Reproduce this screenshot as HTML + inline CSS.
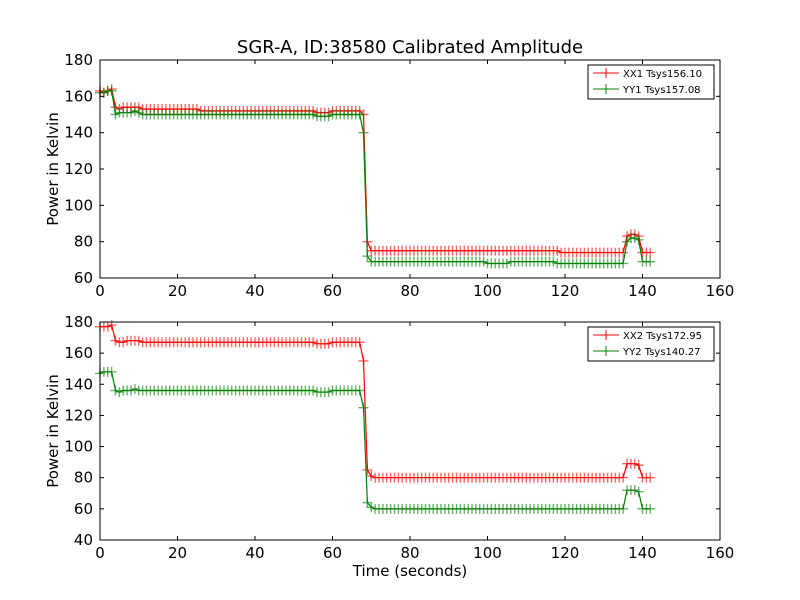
<!DOCTYPE html>
<html><head><meta charset="utf-8"><style>
body{margin:0;background:#fff;}
svg{display:block;font-family:"DejaVu Sans","Liberation Sans",sans-serif;}
</style></head><body>
<svg id="fig" width="800" height="600" viewBox="0 0 800 600">
<rect width="800" height="600" fill="#fff"/>
<text x="410" y="53" text-anchor="middle" font-size="18">SGR-A, ID:38580 Calibrated Amplitude</text>
</svg>
<script>
const times = [];
for (let t = 0; t <= 142; t++) times.push(t);
const xx1 = [163,162,163,164,154,153,154,154,154,154,154,
153,153,153,153,153,153,153,153,153,153,153,153,153,153,153,152,152,152,152,152,
152,152,152,152,152,152,152,152,152,152,152,152,152,152,152,152,152,152,152,152,
152,152,152,152,152,151,151,151,151,152,152,152,152,152,152,152,152,
150,80,75,
75,75,75,75,75,75,75,75,75,75,75,75,75,75,75,75,75,75,75,75,75,75,75,75,75,75,75,75,75,75,
75,75,75,75,75,75,75,75,75,75,75,75,75,75,75,75,75,75,74,74,74,74,74,74,74,74,74,74,74,74,
74,74,74,74,74,
83,84,84,83,74,74,74];
const yy1 = [162,162,163,163,150,151,151,151,151,152,151,
150,150,150,150,150,150,150,150,150,150,150,150,150,150,150,150,150,150,150,150,
150,150,150,150,150,150,150,150,150,150,150,150,150,150,150,150,150,150,150,150,
150,150,150,150,150,149,149,149,149,150,150,150,150,150,150,150,150,
140,72,69,
69,69,69,69,69,69,69,69,69,69,69,69,69,69,69,69,69,69,69,69,69,69,69,69,69,69,69,69,69,68,
68,68,68,68,68,69,69,69,69,69,69,69,69,69,69,69,69,68,68,68,68,68,68,68,68,68,68,68,68,68,
68,68,68,68,68,
80,82,82,81,69,69,69];
const xx2 = [177,177,177,178,168,167,167,168,168,168,168,
167,167,167,167,167,167,167,167,167,167,167,167,167,167,167,167,167,167,167,167,
167,167,167,167,167,167,167,167,167,167,167,167,167,167,167,167,167,167,167,167,
167,167,167,167,167,166,166,166,166,167,167,167,167,167,167,167,167,
155,85,81,
80,80,80,80,80,80,80,80,80,80,80,80,80,80,80,80,80,80,80,80,80,80,80,80,80,80,80,80,80,80,
80,80,80,80,80,80,80,80,80,80,80,80,80,80,80,80,80,80,80,80,80,80,80,80,80,80,80,80,80,80,
80,80,80,80,80,
89,89,89,88,80,80,80];
const yy2 = [147,148,148,148,136,135,136,136,136,137,136,
136,136,136,136,136,136,136,136,136,136,136,136,136,136,136,136,136,136,136,136,
136,136,136,136,136,136,136,136,136,136,136,136,136,136,136,136,136,136,136,136,
136,136,136,136,136,135,135,135,135,136,136,136,136,136,136,136,136,
125,64,61,
60,60,60,60,60,60,60,60,60,60,60,60,60,60,60,60,60,60,60,60,60,60,60,60,60,60,60,60,60,60,
60,60,60,60,60,60,60,60,60,60,60,60,60,60,60,60,60,60,60,60,60,60,60,60,60,60,60,60,60,60,
60,60,60,60,60,
72,72,72,71,60,60,60];
const xTicks = [0,20,40,60,80,100,120,140,160];
const yTicksTop = [60,80,100,120,140,160,180];
const yTicksBot = [40,60,80,100,120,140,160,180];
const legendTop = ["XX1 Tsys156.10","YY1 Tsys157.08"];
const legendBot = ["XX2 Tsys172.95","YY2 Tsys140.27"];

const NS = "http://www.w3.org/2000/svg";
const svg = document.getElementById("fig");
function mk(tag, attrs, parent){const e=document.createElementNS(NS,tag);for(const k in attrs)e.setAttribute(k,attrs[k]);(parent||svg).appendChild(e);return e;}

function panel(top, bottom, ymin, ymax, yTicks, s1, s2, labels, nm, xlabel){
  const L=100,R=720;
  const g=mk("g",{});
  
  
  const xs=v=>L+(v-0)/(160-0)*(R-L);
  const ys=v=>bottom-(v-ymin)/(ymax-ymin)*(bottom-top);
  [[s1,"#ff0000","xx"],[s2,"#008000","yy"]].forEach(([s,c,n])=>{
    const sg=mk("g",{},g);
    
    
    let d="";
    s.forEach((v,i)=>{d+=(i?"L":"M")+xs(times[i]).toFixed(2)+","+ys(v).toFixed(2);});
    const p=mk("path",{d:d,fill:"none",stroke:c,"stroke-width":1.2},sg);
    
    
    let md="";
    s.forEach((v,i)=>{const x=xs(times[i]),y=ys(v);md+=`M${(x-5).toFixed(2)},${y.toFixed(2)}h10M${x.toFixed(2)},${(y-5).toFixed(2)}v10`;});
    const m=mk("path",{d:md,fill:"none",stroke:c,"stroke-width":1.4,"stroke-opacity":0.6},sg);
    
    
  });
  const fr=mk("rect",{x:L,y:top,width:R-L,height:bottom-top,fill:"none",stroke:"#000","stroke-width":1},g);
  
  
  xTicks.forEach(v=>{
    const x=xs(v);
    mk("line",{x1:x,x2:x,y1:bottom,y2:bottom-4,stroke:"#000"},g);
    mk("line",{x1:x,x2:x,y1:top,y2:top+4,stroke:"#000"},g);
    const t=mk("text",{x:x,y:bottom+18,"text-anchor":"middle","font-size":15},g);
    t.textContent=v;
    
    
  });
  yTicks.forEach(v=>{
    const y=ys(v);
    mk("line",{x1:L,x2:L+4,y1:y,y2:y,stroke:"#000"},g);
    mk("line",{x1:R,x2:R-4,y1:y,y2:y,stroke:"#000"},g);
    const t=mk("text",{x:L-7,y:y+5,"text-anchor":"end","font-size":15},g);
    t.textContent=v;
    
    
  });
  const yl=mk("text",{x:0,y:0,"text-anchor":"middle","font-size":15,transform:`translate(58,${(top+bottom)/2}) rotate(-90)`},g);
  yl.textContent="Power in Kelvin";
  
  
  if(xlabel){
    const xl=mk("text",{x:410,y:576,"text-anchor":"middle","font-size":15},g);
    xl.textContent=xlabel;
    
    
  }
  const lg=mk("g",{},g);
  
  
  mk("rect",{x:588,y:top+5,width:126,height:34,fill:"#fff",stroke:"#000","stroke-width":1},lg);
  labels.forEach((lab,i)=>{
    const c=i?"#008000":"#ff0000";
    const y=top+13+i*16;
    const e=mk("g",{},lg);
    
    
    mk("line",{x1:593,x2:619,y1:y,y2:y,stroke:c},e);
    mk("path",{d:`M601,${y}h10M606,${y-5}v10`,stroke:c},e);
    const t=mk("text",{x:623,y:y+4,"font-size":10},e);
    t.textContent=lab;
  });
}
panel(60,278,60,180,yTicksTop,xx1,yy1,legendTop,"top-panel",null);
panel(322,540,40,180,yTicksBot,xx2,yy2,legendBot,"bottom-panel","Time (seconds)");
</script>
</body></html>
